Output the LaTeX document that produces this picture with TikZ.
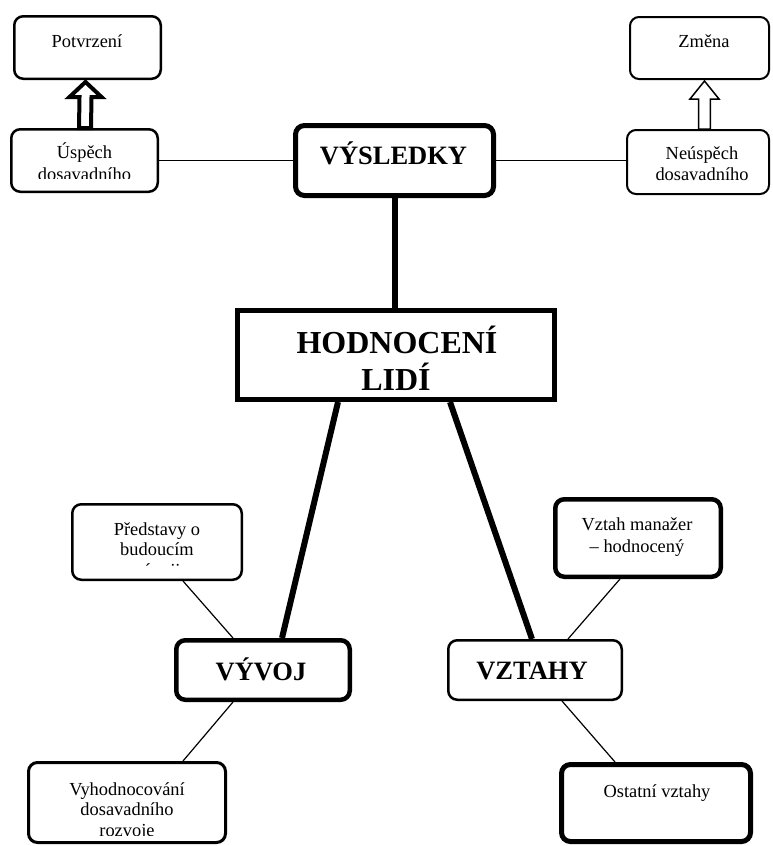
\documentclass[tikz,border=0pt]{standalone}
\usepackage{fontspec}
\setmainfont{Liberation Serif}
\usetikzlibrary{calc}
\begin{document}
\begin{tikzpicture}[x=1pt,y=-1pt,
  rbox/.style={draw,rounded corners=9pt,fill=white,inner sep=0pt},
  sbox/.style={draw,fill=white,inner sep=0pt},
  small/.style={font=\fontsize{18.4}{21}\selectfont,inner sep=0pt,anchor=base},
  big/.style={font=\bfseries\fontsize{26.5}{30}\selectfont,inner sep=0pt,anchor=base},
  huge/.style={font=\bfseries\fontsize{32}{37}\selectfont,inner sep=0pt,anchor=base},
  thinline/.style={line width=1.2pt},
  heavyline/.style={line width=6pt},
  blockarrow/.style={fill=white,line join=miter}]
\useasboundingbox (0,0) rectangle (772,846);

% boxes
\node[rbox,line width=2.5pt,minimum width=146.5pt,minimum height=62.5pt] (pot) at (87.5,47.5) {};
\node[rbox,line width=2.5pt,minimum width=146.5pt,minimum height=62.5pt] (usp) at (84.5,160.5) {};
\node[rbox,line width=2pt,minimum width=139pt,minimum height=62pt] (zme) at (699.5,48) {};
\node[rbox,line width=2pt,minimum width=142pt,minimum height=64pt] (neu) at (698,162) {};
\node[rbox,line width=5pt,minimum width=198pt,minimum height=70pt] (vys) at (394.5,160.5) {};
\node[sbox,line width=5pt,minimum width=317pt,minimum height=89pt] (hod) at (396,355) {};
\node[rbox,line width=4.5pt,minimum width=173.5pt,minimum height=59.5pt] (vyv) at (263,670) {};
\node[rbox,line width=2.5pt,minimum width=173.5pt,minimum height=59.5pt] (vzt) at (535,670) {};
\node[rbox,line width=2.5pt,minimum width=169.5pt,minimum height=75.5pt] (pre) at (157,542) {};
\node[rbox,line width=4.5pt,minimum width=165.5pt,minimum height=77.5pt] (vzm) at (638,538) {};
\node[rbox,line width=3pt,minimum width=197pt,minimum height=80pt] (vyh) at (127,802.5) {};
\node[rbox,line width=5pt,minimum width=189pt,minimum height=77pt] (ost) at (656,803) {};

% connectors
\draw[thinline] (usp.east) -- (vys.west);
\draw[thinline] (vys.east) -- (vys.east -| neu.west);
\draw[heavyline] (vys.south) -- (vys.south |- hod.north);
\draw[heavyline] ($(hod.south)+(-58,0)$) -- ($(vyv.north)+(19,0)$);
\draw[heavyline] ($(hod.south)+(54,0)$) -- ($(vzt.north)+(-3,0)$);
\draw[thinline] ($(pre.south)+(26,0)$) -- ($(vyv.north)+(-30,0)$);
\draw[thinline] ($(vyv.south)+(-30,0)$) -- ($(vyh.north)+(56,0)$);
\draw[thinline] ($(vzm.south)+(-18,0)$) -- ($(vzt.north)+(33,0)$);
\draw[thinline] ($(vzt.south)+(27,0)$) -- ($(ost.north)+(-41,0)$);

% block arrows
\coordinate (ptip) at ($(pot.south)+(-2,2)$);
\coordinate (pbase) at ($(usp.north)+(0.5,0)$);
\draw[blockarrow,line width=4pt]
  ($(pbase)+(-6,0)$) -- ($(pbase -| ptip)+(-6,-31)$) -- ($(pbase -| ptip)+(-16,-31)$)
  -- (ptip) -- ($(pbase -| ptip)+(16,-31)$) -- ($(pbase -| ptip)+(6,-31)$)
  -- ($(pbase)+(6,0)$) -- cycle;
\coordinate (ztip) at ($(zme.south)+(5,1)$);
\coordinate (zbase) at ($(neu.north)+(6.5,0)$);
\draw[blockarrow,line width=1.5pt]
  ($(zbase)+(-5.8,0)$) -- ($(zbase)+(-5.8,-30)$) -- ($(zbase)+(-14.5,-30)$)
  -- (ztip) -- ($(zbase)+(14.5,-30)$) -- ($(zbase)+(5.8,-30)$)
  -- ($(zbase)+(5.8,0)$) -- cycle;

% texts
\node[small] (tpot) at (87,47) {Potvrzení};
\node[small] (tusp1) at (84.5,158.5) {Úspěch};
\begin{scope}
  \clip (12,130) rectangle (157,178.5);
  \node[small] (tusp2) at (84.5,180.5) {dosavadního};
\end{scope}
\node[small] (tzme) at (704,47) {Změna};
\node[small] (tneu1) at (702,159) {Neúspěch};
\node[small] (tneu2) at (702,180.5) {dosavadního};
\node[big] (tvys) at (393.5,164) {VÝSLEDKY};
\node[huge] (thod1) at (397,353) {HODNOCENÍ};
\node[huge] (thod2) at (396,390) {LIDÍ};
\node[big] (tvyv) at (261,680) {VÝVOJ};
\node[big] (tvzt) at (532,679) {VZTAHY};
\node[small] (tpre1) at (157,535) {Představy o};
\node[small] (tpre2) at (157,555) {budoucím};
\begin{scope}
  \clip (73,505) rectangle (241,565.5);
  \node[small] (tpre3) at (157,576) {vývoji};
\end{scope}
\node[small] (tvzm1) at (637,530) {Vztah manažer};
\node[small] (tvzm2) at (637,552) {– hodnocený};
\node[small] (tvyh1) at (127,795) {Vyhodnocování};
\node[small] (tvyh2) at (127,815) {dosavadního};
\begin{scope}
  \clip (29,763) rectangle (225,835);
  \node[small] (tvyh3) at (127,836.5) {rozvoje};
\end{scope}
\node[small] (tost) at (657,797) {Ostatní vztahy};
\end{tikzpicture}
\end{document}
